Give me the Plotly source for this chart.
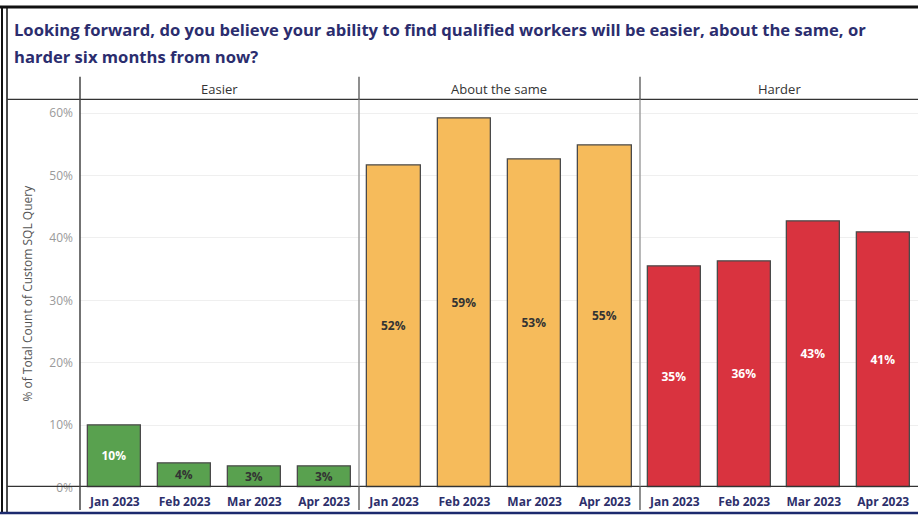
import plotly.graph_objects as go

W, H = 918, 523

months = ['Jan 2023', 'Feb 2023', 'Mar 2023', 'Apr 2023']
groups = ['Easier', 'About the same', 'Harder']
easier = [0.099, 0.039, 0.034, 0.034]
same = [0.517, 0.592, 0.526, 0.548]
harder = [0.354, 0.362, 0.427, 0.409]
y_ticks = [0, 0.1, 0.2, 0.3, 0.4, 0.5, 0.6]

colors = {'Easier': '#59a14f', 'About the same': '#f6bb5b', 'Harder': '#d9333f'}
label_colors = {
    'Easier': ['white', '#333333', '#333333', '#333333'],
    'About the same': ['#333333'] * 4,
    'Harder': ['white'] * 4,
}

def px_x(x):
    return x / W

def px_y(y):
    return 1 - y / H

# panel edges in pixels
edges = [80, 359, 640, 918]
plot_top, plot_bot = 101, 495

fig = go.Figure()
for i, (g, vals) in enumerate(zip(groups, [easier, same, harder])):
    ax = '' if i == 0 else str(i + 1)
    fig.add_trace(go.Bar(
        x=months, y=vals,
        xaxis='x' + ax, yaxis='y',
        width=0.76,
        marker=dict(color=colors[g], line=dict(color='#4a4a4a', width=1.3)),
        text=[f'{v:.0%}' for v in vals],
        textposition='inside', insidetextanchor='middle', textangle=0,
        constraintext='none',
        textfont=dict(family='Open Sans', size=12, color=label_colors[g], weight='bold'),
        showlegend=False,
        hoverinfo='skip',
    ))
    xa = dict(
        domain=[px_x(edges[i]), px_x(edges[i + 1])],
        type='category', categoryorder='array', categoryarray=months,
        range=[-0.5, 3.5],
        showgrid=False, zeroline=False, showline=False, ticks='',
        ticklabelstandoff=6,
        tickfont=dict(family='Open Sans', size=12, color='#2d2f6b', weight='bold'),
        anchor='y',
    )
    fig.update_layout(**{'xaxis' + ax: xa})

fig.update_layout(
    width=W, height=H, autosize=False,
    margin=dict(l=0, r=0, t=0, b=0),
    paper_bgcolor='white', plot_bgcolor='white',
    bargap=0,
    yaxis=dict(
        domain=[px_y(plot_bot), px_y(plot_top)],
        range=[0, (plot_bot - plot_top) / 633.3],
        tickvals=y_ticks, tickformat='.0%',
        tickfont=dict(family='Open Sans', size=12, color='#9a9a9a'),
        showgrid=True, gridcolor='#efefef', gridwidth=1,
        zeroline=False, showline=False, ticks='',
        ticklabelstandoff=6,
        anchor='x',
    ),
)

shapes = []
line_dark = dict(color='#333333', width=1.3)
# outer frame
shapes.append(dict(type='line', xref='paper', yref='paper', x0=0, x1=1,
                   y0=px_y(7), y1=px_y(7), line=dict(color='#111111', width=3)))
shapes.append(dict(type='line', xref='paper', yref='paper', x0=px_x(2), x1=px_x(2),
                   y0=px_y(6), y1=px_y(522), line=dict(color='#111111', width=2)))
shapes.append(dict(type='line', xref='paper', yref='paper', x0=px_x(7), x1=px_x(7),
                   y0=px_y(6), y1=px_y(522), line=dict(color='#111111', width=1.5)))
shapes.append(dict(type='line', xref='paper', yref='paper', x0=0, x1=1,
                   y0=px_y(521), y1=px_y(521), line=dict(color='#1c2a6e', width=2.5)))
# header bottom and x axis line
for yy in [101, 494]:
    shapes.append(dict(type='line', xref='paper', yref='paper', x0=px_x(7), x1=1,
                       y0=px_y(yy), y1=px_y(yy), line=line_dark))
# vertical separators
shapes.append(dict(type='line', xref='paper', yref='paper', x0=px_x(80), x1=px_x(80),
                   y0=px_y(78), y1=px_y(518), line=dict(color='#444444', width=1.5)))
for xx in [359, 640]:
    shapes.append(dict(type='line', xref='paper', yref='paper', x0=px_x(xx), x1=px_x(xx),
                       y0=px_y(78), y1=px_y(101), line=dict(color='#444444', width=1.2)))
    shapes.append(dict(type='line', xref='paper', yref='paper', x0=px_x(xx), x1=px_x(xx),
                       y0=px_y(101), y1=px_y(494), line=dict(color='#a0a0a0', width=1.5)))
    shapes.append(dict(type='line', xref='paper', yref='paper', x0=px_x(xx), x1=px_x(xx),
                       y0=px_y(494), y1=px_y(518), line=dict(color='#444444', width=1.2)))
fig.update_layout(shapes=shapes)

annotations = []
title_font = dict(family='Open Sans', size=16.6, color='#2b2d6e', weight='bold')
annotations.append(dict(text='Looking forward, do you believe your ability to find qualified workers will be easier, about the same, or',
                        xref='paper', yref='paper', x=px_x(12), y=px_y(30),
                        xanchor='left', yanchor='middle', showarrow=False, font=title_font))
annotations.append(dict(text='harder six months from now?',
                        xref='paper', yref='paper', x=px_x(12), y=px_y(57),
                        xanchor='left', yanchor='middle', showarrow=False, font=title_font))
for i, g in enumerate(groups):
    annotations.append(dict(text=g, xref='paper', yref='paper',
                            x=px_x((edges[i] + edges[i + 1]) / 2), y=px_y(90),
                            xanchor='center', yanchor='middle', showarrow=False,
                            font=dict(family='Open Sans', size=13, color='#333333')))
annotations.append(dict(text='% of Total Count of Custom SQL Query', xref='paper', yref='paper',
                        x=px_x(27), y=px_y(298), textangle=-90,
                        xanchor='center', yanchor='middle', showarrow=False,
                        font=dict(family='Open Sans', size=12, color='#555555')))
fig.update_layout(annotations=annotations)

# drop the default body margin so the figure sits at the window corner
fig.write_html('out.html', config={'displayModeBar': False, 'responsive': False},
               post_script="document.body.style.margin='0';document.body.style.overflow='hidden';")
